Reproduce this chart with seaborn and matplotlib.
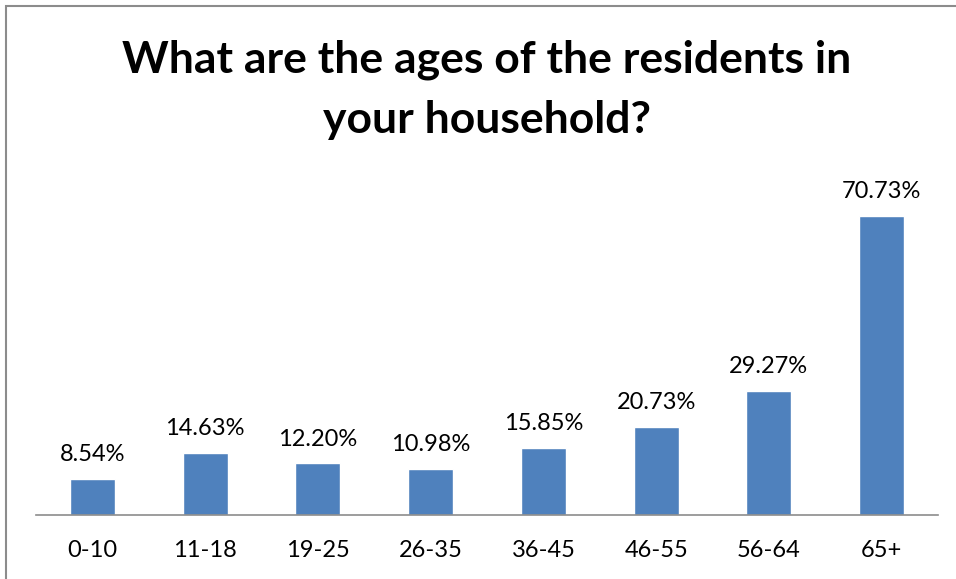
import matplotlib
matplotlib.use("Agg")
import matplotlib.pyplot as plt
import seaborn as sns
import pandas as pd
from matplotlib.patches import Rectangle

age_groups = ["0-10", "11-18", "19-25", "26-35", "36-45", "46-55", "56-64", "65+"]
percentages = [8.54, 14.63, 12.20, 10.98, 15.85, 20.73, 29.27, 70.73]

df = pd.DataFrame({"age": age_groups, "pct": percentages})

sns.set_theme(style="white")
plt.rcParams["font.family"] = ["Lato", "DejaVu Sans"]

fig = plt.figure(figsize=(9.56, 5.79), dpi=100)
ax = fig.add_axes([36 / 956, 64 / 579, 902 / 956, (515 - 177) / 579])

sns.barplot(data=df, x="age", y="pct", color="#4F81BD", width=0.4,
            saturation=1, ax=ax)

ax.set_ylim(0, 80)
ax.set_xlim(-0.5, len(age_groups) - 0.5)
ax.set_xlabel("")
ax.set_ylabel("")
ax.set_yticks([])
for side in ["top", "right", "left"]:
    ax.spines[side].set_visible(False)
ax.spines["bottom"].set_color("#8C8C8C")
ax.spines["bottom"].set_linewidth(1.2)
ax.tick_params(axis="x", length=0, pad=18, labelsize=17, labelcolor="black")

for i, v in enumerate(percentages):
    ax.text(i, v + 3.3, f"{v:.2f}%", ha="center", va="bottom",
            fontsize=17, color="black")

fig.text(487 / 956, 1 - 90 / 579,
         "What are the ages of the residents in\nyour household?",
         ha="center", va="center", fontsize=32, fontweight="bold",
         color="black", linespacing=1.6)

fig.patches.append(Rectangle((6 / 956, -0.1), 1.2, 1 - 6 / 579 + 0.1,
                             transform=fig.transFigure, fill=False,
                             edgecolor="#8C8C8C", linewidth=1.5))

fig.savefig("out.png", dpi=100, facecolor="white")
